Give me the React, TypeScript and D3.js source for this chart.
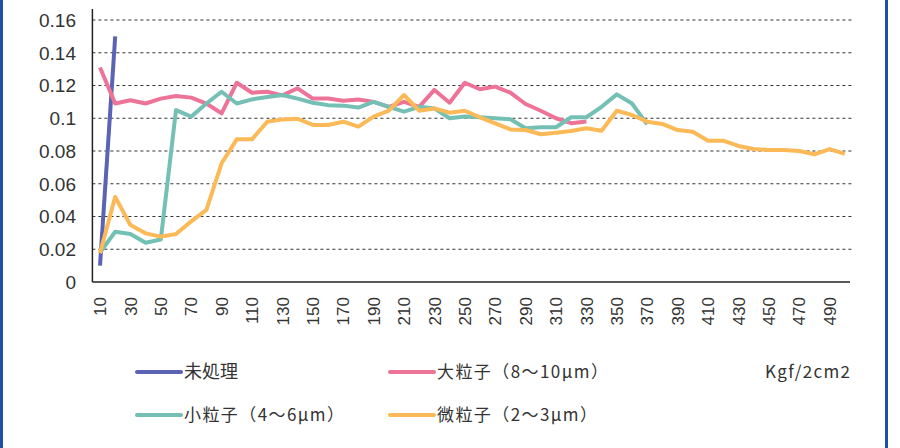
import * as d3 from 'd3'

// pressure categories 10..500 (Kgf/2cm2)
const categories = d3.range(10, 510, 10).map(String)
const tickLabels = d3.range(10, 500, 20).map(String)
const yTicks = [0, 0.02, 0.04, 0.06, 0.08, 0.1, 0.12, 0.14, 0.16]

const untreated = [0.01, 0.15]
const large = [
  0.131, 0.109, 0.111, 0.109, 0.112, 0.1136, 0.1126, 0.109, 0.103, 0.1217,
  0.1156, 0.1162, 0.114, 0.1183, 0.112, 0.112, 0.1107, 0.1115, 0.11, 0.107,
  0.11, 0.107, 0.1173, 0.1095, 0.1217, 0.1177, 0.1193, 0.1156, 0.1087, 0.1046,
  0.1, 0.097, 0.098,
]
const small = [
  0.018, 0.0307, 0.0293, 0.024, 0.026, 0.105, 0.101, 0.109, 0.1162, 0.109,
  0.1115, 0.113, 0.1142, 0.112, 0.1095, 0.108, 0.1077, 0.1065, 0.11, 0.107,
  0.104, 0.107, 0.106, 0.1, 0.101, 0.1006, 0.1, 0.0994, 0.0939, 0.0945,
  0.0945, 0.1006, 0.1006, 0.107, 0.1146, 0.109, 0.0963,
]
const fine = [
  0.0175, 0.052, 0.0348, 0.0297, 0.0277, 0.0293, 0.037, 0.044, 0.0725, 0.0871,
  0.0871, 0.0979, 0.0993, 0.0997, 0.0959, 0.0959, 0.0979, 0.0949, 0.101, 0.1046,
  0.1142, 0.1046, 0.106, 0.1034, 0.1046, 0.1006, 0.0969, 0.0932, 0.0928, 0.0902,
  0.0912, 0.0922, 0.0939, 0.0924, 0.1046, 0.102, 0.0979, 0.0965, 0.0928, 0.0918,
  0.0863, 0.0863, 0.0831, 0.0812, 0.0806, 0.0806, 0.08, 0.078, 0.0812, 0.0782,
]

const seriesList = [
  { name: '未処理', values: untreated, color: '#5a63b4', width: 0 },
  { name: '大粒子（8〜10μm）', values: large, color: '#ee7398', width: 171 },
  { name: '小粒子（4〜6μm）', values: small, color: '#74c0b5', width: 160 },
  { name: '微粒子（2〜3μm）', values: fine, color: '#fbb957', width: 160 },
]

const W = 900
const H = 448
const plot = { left: 92.4, right: 852.4, top: 20, bottom: 282 }

export default function App() {
  const x = d3
    .scaleBand<string>()
    .domain(categories)
    .range([plot.left, plot.right])
  const y = d3.scaleLinear().domain([0, 0.16]).range([plot.bottom, plot.top])
  const cx = (i: number) => (x(categories[i]) ?? 0) + x.bandwidth() / 2

  const line = d3
    .line<number>()
    .x((_, i) => cx(i))
    .y(d => y(d))

  const legendPos = [
    { x: 137, y: 372 },
    { x: 390, y: 372 },
    { x: 137, y: 415 },
    { x: 390, y: 415 },
  ]

  return (
    <svg
      width={W}
      height={H}
      style={{ position: 'absolute', left: 0, top: 0, background: '#fff' }}
      fontFamily="'Liberation Sans', Arial, sans-serif"
    >
      {/* frame */}
      <rect x={0} y={0} width={3} height={H} fill="#1d4fa6" />
      <rect x={885} y={0} width={3} height={H} fill="#1d4fa6" />

      {/* grid */}
      {yTicks.slice(1).map(t => (
        <line
          key={t}
          x1={plot.left}
          x2={plot.right}
          y1={y(t)}
          y2={y(t)}
          stroke="#333"
          strokeDasharray="3,3"
          strokeWidth={1}
        />
      ))}
      {yTicks.map(t => (
        <text
          key={t}
          x={76}
          y={y(t)}
          dy="0.36em"
          textAnchor="end"
          fontSize={19}
          fill="#333"
        >
          {t === 0 ? '0' : String(t)}
        </text>
      ))}

      {/* axes */}
      <line x1={plot.left} x2={plot.left} y1={9} y2={plot.bottom} stroke="#222" strokeWidth={1.5} />
      <line x1={plot.left} x2={850} y1={plot.bottom} y2={plot.bottom} stroke="#222" strokeWidth={1.5} />

      {tickLabels.map(t => {
        const px = (x(t) ?? 0) + x.bandwidth() / 2
        return (
          <text
            key={t}
            transform={`translate(${px},297) rotate(-90)`}
            dy="0.36em"
            textAnchor="end"
            fontSize={17}
            fill="#333"
          >
            {t}
          </text>
        )
      })}

      {/* lines */}
      {seriesList.map(s => (
        <path
          key={s.name}
          d={line(s.values) ?? ''}
          fill="none"
          stroke={s.color}
          strokeWidth={4}
          strokeLinejoin="round"
        />
      ))}

      {/* legend */}
      {seriesList.map((s, i) => (
        <g key={s.name} transform={`translate(${legendPos[i].x},${legendPos[i].y})`}>
          <line x1={0} x2={44} stroke={s.color} strokeWidth={4} strokeLinecap="round" />
          <text
            x={47}
            dy="0.36em"
            fontSize={s.width ? 17 : 18}
            fill="#333"
            fontFamily="'Noto Sans CJK JP', sans-serif"
            textLength={s.width || undefined}
            lengthAdjust={s.width ? 'spacing' : undefined}
          >
            {s.name}
          </text>
        </g>
      ))}
      <text
        x={765}
        y={372}
        dy="0.36em"
        fontSize={17}
        fill="#333"
        fontFamily="'Noto Sans CJK JP', sans-serif"
        textLength={85}
        lengthAdjust="spacing"
      >
        Kgf/2cm2
      </text>
    </svg>
  )
}
